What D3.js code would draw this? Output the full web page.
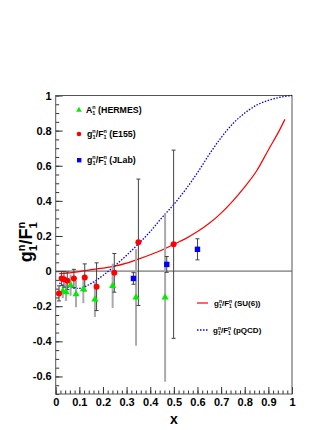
<!DOCTYPE html>
<html>
<head>
<meta charset="utf-8">
<script src="https://cdn.jsdelivr.net/npm/d3@7"></script>
<style>
  body { margin: 0; background: #fff; }
  svg text { font-family: "Liberation Sans", Arial, sans-serif; font-weight: bold; }
</style>
</head>
<body>
<div id="chart"></div>
<script>
// HERMES A1n
const hermesX = [0.030, 0.044, 0.063, 0.086, 0.117, 0.166, 0.241, 0.340, 0.463]
const hermesY = [-0.114, -0.120, -0.080, -0.131, -0.103, -0.161, -0.084, -0.150, -0.150]
const hermesErr = [0.04, 0.05, 0.06, 0.075, 0.08, 0.10, 0.126, 0.275, 0.48]

// E155 g1n/F1n
const e155X = [0.014, 0.025, 0.035, 0.049, 0.077, 0.123, 0.173, 0.248, 0.350, 0.499]
const e155Y = [-0.127, -0.042, -0.047, -0.055, -0.042, -0.036, -0.089, -0.010, 0.164, 0.153]
const e155Err = [0.043, 0.04, 0.045, 0.05, 0.052, 0.077, 0.136, 0.11, 0.36, 0.536]

// JLab g1n/F1n
const jlabX = [0.329, 0.470, 0.600]
const jlabY = [-0.042, 0.038, 0.124]
const jlabErr = [0.033, 0.045, 0.06]

// SU(6) curve
const su6X = [0.015, 0.05, 0.1, 0.15, 0.2, 0.25, 0.3, 0.35, 0.4, 0.45, 0.5, 0.55, 0.6, 0.65, 0.7, 0.75, 0.8, 0.85, 0.9, 0.95, 0.97]
const su6Y = [-0.015, -0.012, -0.003, 0.008, 0.017, 0.028, 0.045, 0.068, 0.093, 0.12, 0.153, 0.185, 0.225, 0.272, 0.33, 0.4, 0.48, 0.57, 0.69, 0.81, 0.864]

// pQCD curve
const pqcdX = [0.015, 0.05, 0.09, 0.13, 0.16, 0.2, 0.25, 0.3, 0.35, 0.4, 0.45, 0.5, 0.55, 0.6, 0.65, 0.7, 0.75, 0.8, 0.85, 0.9, 0.95, 1.0]
const pqcdY = [-0.068, -0.09, -0.099, -0.085, -0.062, -0.025, 0.03, 0.09, 0.155, 0.225, 0.305, 0.38, 0.465, 0.56, 0.665, 0.76, 0.84, 0.9, 0.945, 0.972, 0.99, 1.0]

const xTicks = [0, 0.1, 0.2, 0.3, 0.4, 0.5, 0.6, 0.7, 0.8, 0.9, 1]
const xTickLabels = ["0", "0.1", "0.2", "0.3", "0.4", "0.5", "0.6", "0.7", "0.8", "0.9", "1"]
const yTicks = [-0.6, -0.4, -0.2, 0, 0.2, 0.4, 0.6, 0.8, 1]
const yTickLabels = ["-0.6", "-0.4", "-0.2", "0", "0.2", "0.4", "0.6", "0.8", "1"]

const width = 332
const height = 430
const plotLeft = 55.7, plotRight = 292, plotTop = 95.5, plotBottom = 394

const svg = d3.select("#chart").append("svg")
  .attr("width", width)
  .attr("height", height)

const x = d3.scaleLinear().domain([0, 1]).range([plotLeft, plotRight])
const y = d3.scaleLinear().domain([-0.7, 1]).range([plotBottom, plotTop])

// minor ticks
svg.append("g")
  .attr("transform", `translate(0, ${plotBottom})`)
  .call(d3.axisBottom(x).tickValues(d3.range(0, 1.001, 0.02)).tickSize(-3.5).tickFormat(""))
svg.append("g")
  .attr("transform", `translate(${plotLeft}, 0)`)
  .call(d3.axisLeft(y).tickValues(d3.range(-0.7, 1.001, 0.05)).tickSize(-3.5).tickFormat(""))

// major ticks and labels
svg.append("g")
  .attr("transform", `translate(0, ${plotBottom})`)
  .call(d3.axisBottom(x).tickValues(xTicks).tickSize(-7).tickPadding(4)
    .tickFormat((d, i) => xTickLabels[i]))
svg.append("g")
  .attr("transform", `translate(${plotLeft}, 0)`)
  .call(d3.axisLeft(y).tickValues(yTicks).tickSize(-7).tickPadding(4)
    .tickFormat((d, i) => yTickLabels[i]))

svg.selectAll(".domain").remove()
svg.selectAll(".tick line").attr("stroke", "#333")
svg.selectAll(".tick text").attr("font-size", 11).attr("fill", "#000")

// frame
svg.append("rect")
  .attr("x", plotLeft).attr("y", plotTop)
  .attr("width", plotRight - plotLeft).attr("height", plotBottom - plotTop)
  .attr("fill", "none").attr("stroke", "#555").attr("stroke-width", 1)

// zero line
svg.append("line")
  .attr("x1", plotLeft).attr("x2", plotRight)
  .attr("y1", y(0)).attr("y2", y(0))
  .attr("stroke", "#555").attr("stroke-width", 1)

// curves
const su6 = su6X.map((d, i) => [d, su6Y[i]])
const pqcd = pqcdX.map((d, i) => [d, pqcdY[i]])
const line = d3.line().x(d => x(d[0])).y(d => y(d[1])).curve(d3.curveMonotoneX)

svg.append("path").datum(su6)
  .attr("d", line)
  .attr("fill", "none").attr("stroke", "#ff0000").attr("stroke-width", 1.2)
svg.append("path").datum(pqcd)
  .attr("d", line)
  .attr("fill", "none").attr("stroke", "#0000ff").attr("stroke-width", 1.3)
  .attr("stroke-dasharray", "1.5,1.5")

// error bars
function errorBars(xs, ys, errs, color, w, cap) {
  const g = svg.append("g")
  xs.forEach((xv, i) => {
    const x0 = x(xv)
    const y1 = y(ys[i] + errs[i])
    const y2 = y(ys[i] - errs[i])
    g.append("line").attr("x1", x0).attr("x2", x0).attr("y1", y1).attr("y2", y2)
      .attr("stroke", color).attr("stroke-width", w)
    if (cap) {
      ;[y1, y2].forEach(yy => {
        g.append("line").attr("x1", x0 - 2).attr("x2", x0 + 2).attr("y1", yy).attr("y2", yy)
          .attr("stroke", color).attr("stroke-width", 1)
      })
    }
  })
}
errorBars(hermesX, hermesY, hermesErr, "#aaa", 2, false)
errorBars(e155X, e155Y, e155Err, "#444", 1, true)
errorBars(jlabX, jlabY, jlabErr, "#444", 1, true)

// markers
const tri = d3.symbol().type(d3.symbolTriangle).size(22)
svg.append("g").selectAll("path")
  .data(hermesX)
  .enter()
  .append("path")
  .attr("d", tri)
  .attr("transform", (d, i) => `translate(${x(d)}, ${y(hermesY[i])})`)
  .attr("fill", "#00ee00")

svg.append("g").selectAll("circle")
  .data(e155X)
  .enter()
  .append("circle")
  .attr("cx", d => x(d))
  .attr("cy", (d, i) => y(e155Y[i]))
  .attr("r", 3)
  .attr("fill", "#ff0000")

svg.append("g").selectAll("rect")
  .data(jlabX)
  .enter()
  .append("rect")
  .attr("x", d => x(d) - 2.7)
  .attr("y", (d, i) => y(jlabY[i]) - 2.7)
  .attr("width", 5.4)
  .attr("height", 5.4)
  .attr("fill", "#0000ff")

// text helper for g1n/F1n style labels
function ratioLabel(sel, size, tail) {
  const s = size * 0.62
  sel.append("tspan").text("g")
  sel.append("tspan").attr("font-size", s).attr("dy", size * 0.25).text("1")
  sel.append("tspan").attr("font-size", s).attr("dx", -s * 0.556).attr("dy", -size * 0.65).text("n")
  sel.append("tspan").attr("dy", size * 0.4).text("/F")
  sel.append("tspan").attr("font-size", s).attr("dy", size * 0.25).text("1")
  sel.append("tspan").attr("font-size", s).attr("dx", -s * 0.556).attr("dy", -size * 0.65).text("n")
  if (tail) sel.append("tspan").attr("dy", size * 0.4).text(tail)
}

// top legend
const legFont = 8.8
svg.append("path").attr("d", d3.symbol().type(d3.symbolTriangle).size(14))
  .attr("transform", "translate(79, 110)").attr("fill", "#00ee00")
const t1 = svg.append("text").attr("x", 86).attr("y", 112.5).attr("font-size", legFont)
t1.append("tspan").text("A")
t1.append("tspan").attr("font-size", legFont * 0.62).attr("dy", legFont * 0.25).text("1")
t1.append("tspan").attr("font-size", legFont * 0.62).attr("dx", -legFont * 0.62 * 0.556).attr("dy", -legFont * 0.65).text("n")
t1.append("tspan").attr("dy", legFont * 0.4).text(" (HERMES)")

svg.append("circle").attr("cx", 79).attr("cy", 134).attr("r", 2.3).attr("fill", "#ff0000")
ratioLabel(svg.append("text").attr("x", 87).attr("y", 137).attr("font-size", legFont), legFont, " (E155)")

svg.append("rect").attr("x", 77).attr("y", 158).attr("width", 4.4).attr("height", 4.4).attr("fill", "#0000ff")
ratioLabel(svg.append("text").attr("x", 87).attr("y", 163).attr("font-size", legFont), legFont, " (JLab)")

// bottom legend
const legFont2 = 8
svg.append("line").attr("x1", 197).attr("x2", 208).attr("y1", 303).attr("y2", 303)
  .attr("stroke", "#ff0000").attr("stroke-width", 1.2)
ratioLabel(svg.append("text").attr("x", 214).attr("y", 306).attr("font-size", legFont2), legFont2, " (SU(6))")
svg.append("line").attr("x1", 197).attr("x2", 209).attr("y1", 330).attr("y2", 330)
  .attr("stroke", "#0000ff").attr("stroke-width", 1.3).attr("stroke-dasharray", "1.5,1.5")
ratioLabel(svg.append("text").attr("x", 213).attr("y", 333).attr("font-size", legFont2), legFont2, " (pQCD)")

// axis titles
svg.append("text")
  .attr("x", 174).attr("y", 423.5)
  .attr("text-anchor", "middle")
  .attr("font-size", 14)
  .text("x")

const yt = svg.append("text")
  .attr("text-anchor", "middle")
  .attr("transform", "translate(32, 242) rotate(-90)")
  .attr("font-size", 18)
ratioLabel(yt, 18, null)
</script>
</body>
</html>
